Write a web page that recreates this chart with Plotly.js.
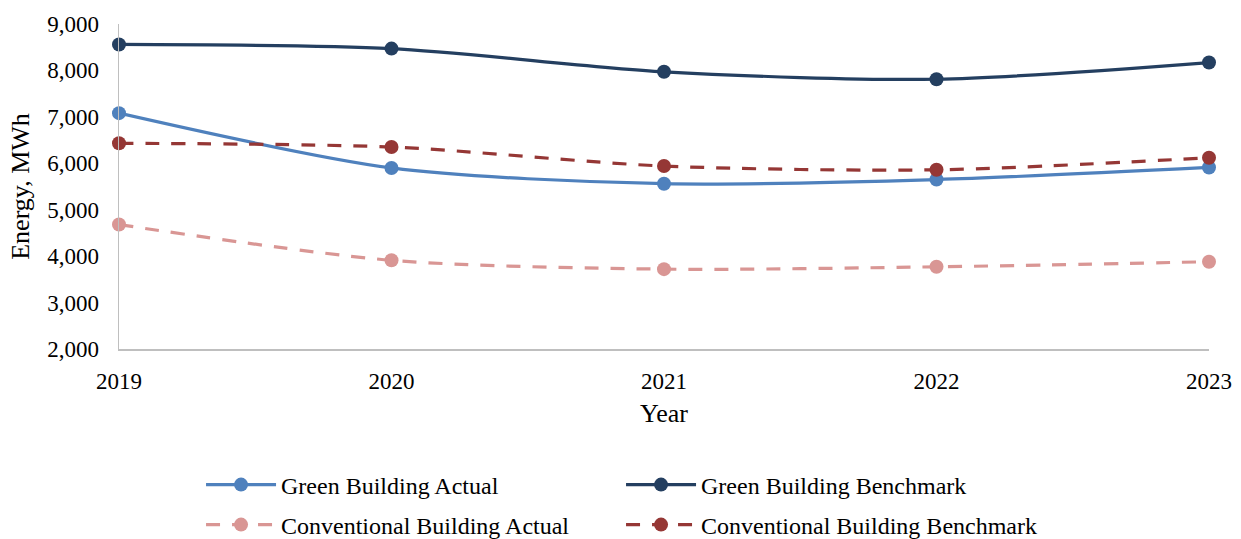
<!DOCTYPE html>
<html>
<head>
<meta charset="utf-8">
<script src="https://cdn.plot.ly/plotly-3.0.1.min.js"></script>
<style>
  html, body { margin: 0; padding: 0; background: #fff; }
  #chart { width: 1241px; height: 539px; }
</style>
</head>
<body>
<div id="chart"></div>
<script>
// Annual energy use, MWh
const years = [2019, 2020, 2021, 2022, 2023];
const greenActual = [7080, 5900, 5560, 5650, 5910];
const greenBenchmark = [8560, 8470, 7970, 7810, 8170];
const conventionalActual = [4680, 3910, 3720, 3770, 3880];
const conventionalBenchmark = [6430, 6350, 5940, 5860, 6120];
const yTicks = [2000, 3000, 4000, 5000, 6000, 7000, 8000, 9000];

const serif = 'Liberation Serif, Times New Roman, serif';

function series(name, y, color, dash, legendId) {
  return {
    type: 'scatter',
    mode: 'lines+markers',
    name: name,
    x: years,
    y: y,
    legend: legendId,
    line: { color: color, width: 3.2, shape: 'spline', smoothing: 0.8, dash: dash },
    marker: { color: color, size: 14 },
    cliponaxis: false,
    hoverinfo: 'x+y+name'
  };
}

const traces = [
  series('Green Building Actual', greenActual, '#4F81BD', 'solid', 'legend'),
  series('Green Building Benchmark', greenBenchmark, '#243F60', 'solid', 'legend'),
  series('Conventional Building Actual', conventionalActual, '#D99694', '14px,12px', 'legend2'),
  series('Conventional Building Benchmark', conventionalBenchmark, '#953735', '14px,12px', 'legend2')
];

const legendBase = {
  orientation: 'h',
  xref: 'container', yref: 'container',
  xanchor: 'left', yanchor: 'middle',
  x: 0.162,
  entrywidth: 335, entrywidthmode: 'pixels',
  itemwidth: 70,
  font: { family: serif, size: 24, color: '#000' },
  bgcolor: 'rgba(0,0,0,0)',
  traceorder: 'normal'
};

const layout = {
  width: 1241,
  height: 539,
  margin: { l: 119, r: 32, t: 24, b: 190 },
  paper_bgcolor: '#fff',
  plot_bgcolor: '#fff',
  font: { family: serif, size: 22, color: '#000' },
  xaxis: {
    range: [2019, 2023],
    tickvals: years,
    ticktext: years.map(String),
    showgrid: false,
    zeroline: false,
    showline: true,
    linecolor: '#BFBFBF',
    linewidth: 1.5,
    ticks: '',
    ticklabelstandoff: 11,
    tickfont: { family: serif, size: 23, color: '#000' },
    title: { text: 'Year', font: { family: serif, size: 26, color: '#000' }, standoff: 10 }
  },
  yaxis: {
    range: [2000, 9000],
    tickvals: yTicks,
    tickformat: ',',
    showgrid: false,
    zeroline: false,
    showline: true,
    linecolor: '#BFBFBF',
    linewidth: 1.5,
    ticks: '',
    ticklabelstandoff: 14,
    tickfont: { family: serif, size: 23, color: '#000' },
    title: { text: 'Energy, MWh', font: { family: serif, size: 26, color: '#000' }, standoff: 10 }
  },
  legend: Object.assign({}, legendBase, { y: 1 - 485 / 539 }),
  legend2: Object.assign({}, legendBase, { y: 1 - 525 / 539 }),
  showlegend: true
};

Plotly.newPlot('chart', traces, layout, { displayModeBar: false, staticPlot: true });
</script>
</body>
</html>
